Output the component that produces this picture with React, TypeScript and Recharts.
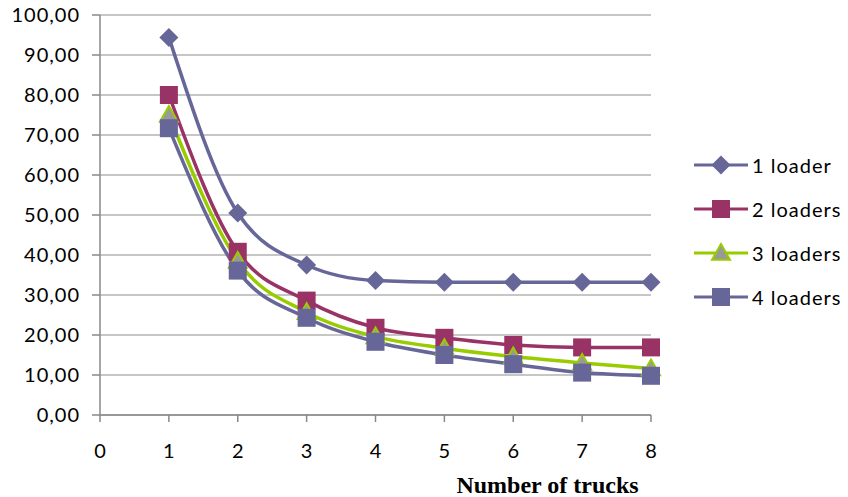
import { CartesianGrid, Label, Line, LineChart, XAxis, YAxis } from "recharts";

const trucks = [1, 2, 3, 4, 5, 6, 7, 8];
const oneLoader = [94.4, 50.5, 37.5, 33.6, 33.2, 33.2, 33.2, 33.2];
const twoLoaders = [80.0, 40.8, 28.6, 21.8, 19.3, 17.5, 16.9, 16.9];
const threeLoaders = [75.0, 38.5, 25.7, 19.6, 16.7, 14.6, 13.0, 11.6];
const fourLoaders = [71.7, 36.1, 24.3, 18.3, 15.0, 12.7, 10.6, 9.8];

const xTicks = [0, 1, 2, 3, 4, 5, 6, 7, 8];
const yTicks = [0, 10, 20, 30, 40, 50, 60, 70, 80, 90, 100];

const BLUE = "#666699";
const PLUM = "#993366";
const LIME = "#99CC00";
const GREY = "#999999";
const FONT = "Lato, 'Open Sans', sans-serif";

const data = trucks.map((t, i) => ({
  t,
  l1: oneLoader[i],
  l2: twoLoaders[i],
  l3: threeLoaders[i],
  l4: fourLoaders[i],
}));

type Shape = "diamond" | "square" | "triangle";

function marker(shape: Shape, cx: number, cy: number, color: string, key?: string) {
  if (shape === "diamond") {
    const r = 9.5;
    return <path key={key} d={`M${cx},${cy - r}L${cx + r},${cy}L${cx},${cy + r}L${cx - r},${cy}Z`} fill={color} />;
  }
  if (shape === "square") {
    const r = 9;
    return <rect key={key} x={cx - r} y={cy - r} width={2 * r} height={2 * r} fill={color} />;
  }
  const r = 9;
  return (
    <path
      key={key}
      d={`M${cx},${cy - r}L${cx + r},${cy + r * 0.75}L${cx - r},${cy + r * 0.75}Z`}
      fill={GREY}
      stroke={LIME}
      strokeWidth={2}
    />
  );
}

const dotFor = (shape: Shape, color: string) => (p: any) =>
  marker(shape, p.cx, p.cy, color, `${shape}-${p.index}`);

const series = [
  { key: "l1", name: "1 loader", color: BLUE, shape: "diamond" as Shape },
  { key: "l2", name: "2 loaders", color: PLUM, shape: "square" as Shape },
  { key: "l3", name: "3 loaders", color: LIME, shape: "triangle" as Shape },
  { key: "l4", name: "4 loaders", color: BLUE, shape: "square" as Shape },
];

function LegendBox() {
  return (
    <div
      style={{
        position: "absolute",
        left: 692,
        top: 143,
        fontFamily: FONT,
        fontSize: 20,
        letterSpacing: 1,
        color: "#000",
      }}
    >
      {series.map((s) => (
        <div key={s.key} style={{ display: "flex", alignItems: "center", height: 44 }}>
          <svg width={58} height={24}>
            <line x1={2} y1={12} x2={56} y2={12} stroke={s.color} strokeWidth={3} />
            {marker(s.shape, 29, 12, s.color)}
          </svg>
          <span style={{ marginLeft: 2 }}>{s.name}</span>
        </div>
      ))}
    </div>
  );
}

export default function App() {
  return (
    <div style={{ position: "absolute", left: 0, top: 0, width: 848, height: 497, background: "#fff" }}>
      <LineChart width={848} height={497} data={data} margin={{ top: 15, right: 197, bottom: 52, left: 0 }}>
        <CartesianGrid horizontal vertical={false} stroke="#B3B3B3" strokeWidth={1.5} />
        <XAxis
          dataKey="t"
          type="number"
          domain={[0, 8]}
          ticks={xTicks}
          interval={0}
          stroke="#888888"
          strokeWidth={1.5}
          tickSize={7}
          tickMargin={22}
          height={30}
          tick={{ fill: "#000", fontSize: 20, fontFamily: FONT }}
        >
          <Label
            value="Number of trucks"
            position="bottom"
            offset={31}
            dx={172}
            style={{ fontFamily: "'Liberation Serif', serif", fontWeight: "bold", fontSize: 24, fill: "#000" }}
          />
        </XAxis>
        <YAxis
          type="number"
          domain={[0, 100]}
          ticks={yTicks}
          interval={0}
          width={100}
          stroke="#888888"
          strokeWidth={1.5}
          tickSize={8}
          tickMargin={12}
          tickFormatter={(v: number) => v.toFixed(2).replace(".", ",")}
          tick={{ fill: "#000", fontSize: 20, fontFamily: FONT, letterSpacing: 1 }}
        />
        {series.map((s) => (
          <Line
            key={s.key}
            dataKey={s.key}
            name={s.name}
            type="monotone"
            stroke={s.color}
            strokeWidth={3.5}
            dot={dotFor(s.shape, s.color)}
            activeDot={false}
            isAnimationActive={false}
          />
        ))}
      </LineChart>
      <LegendBox />
    </div>
  );
}
